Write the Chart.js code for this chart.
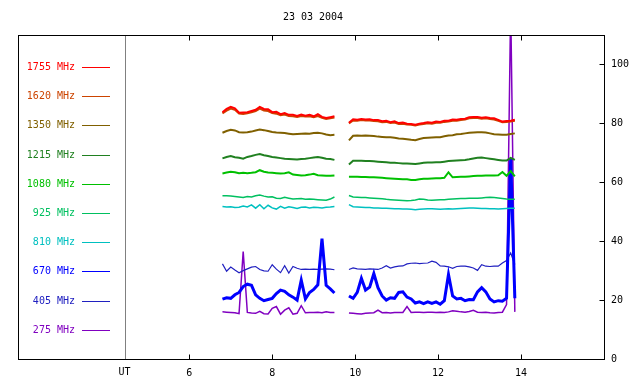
<!DOCTYPE html>
<html>
<head>
<meta charset="utf-8">
<script src="https://cdn.jsdelivr.net/npm/chart.js@4.4.1/dist/chart.umd.min.js"></script>
<style>
  html, body { margin: 0; padding: 0; background: #fff; }
  canvas { display: block; }
</style>
</head>
<body>
<canvas id="radio" width="640" height="384"></canvas>
<script>
'use strict';

// 관측 시각 (UT, 시간). 9.7 은 자료가 빠진 구간
const times = [6.8, 6.9, 7.0, 7.1, 7.2, 7.3, 7.4, 7.5, 7.6, 7.7, 7.8, 7.9, 8.0, 8.1, 8.2, 8.3, 8.4, 8.5, 8.6, 8.7,
    8.8, 8.9, 9.0, 9.1, 9.2, 9.3, 9.4, 9.5,
    9.7,
    9.85, 9.95, 10.05, 10.15, 10.25, 10.35, 10.45, 10.55, 10.65, 10.75, 10.85, 10.95, 11.05, 11.15, 11.25, 11.35,
    11.45, 11.55, 11.65, 11.75, 11.85, 11.95, 12.05, 12.15, 12.25, 12.35, 12.45, 12.55, 12.65, 12.75, 12.85, 12.95,
    13.05, 13.15, 13.25, 13.35, 13.45, 13.55, 13.65, 13.75, 13.85];

// 주파수별 값 (앞 28개, 빈칸 null, 뒤 41개)
const f1755 = [83.8, 84.9, 85.6, 85.1, 83.6, 83.7, 83.8, 84.2, 84.6, 85.6, 84.9, 84.8, 83.8, 83.9, 83.1, 83.5, 82.9, 82.9, 82.5, 83.0,
    82.6, 82.9, 82.4, 83.1, 82.2, 81.8, 82.1, 82.4,
    null,
    80.2, 81.4, 81.2, 81.5, 81.3, 81.4, 81.1, 81.1, 80.7, 80.9, 80.4, 80.7, 80.1, 80.3, 79.9, 79.8, 79.5, 79.9, 80.1, 80.4,
    80.2, 80.6, 80.5, 80.9, 80.9, 81.3, 81.2, 81.5, 81.6, 82.1, 82.2, 82.2, 81.9, 82.1, 81.8, 81.7, 81.2, 80.6, 80.8, 80.9, 81.2];
const f1620 = [83.4, 84.3, 85.0, 84.6, 83.3, 83.2, 83.4, 83.8, 84.2, 85.0, 84.4, 84.2, 83.5, 83.3, 82.8, 83.0, 82.5, 82.4, 82.2, 82.5,
    82.3, 82.4, 82.1, 82.5, 81.9, 81.5, 81.7, 82.0,
    null,
    80.0, 81.0, 80.9, 81.1, 81.0, 81.0, 80.8, 80.7, 80.4, 80.5, 80.1, 80.3, 79.8, 79.9, 79.6, 79.5, 79.3, 79.6, 79.8, 80.0,
    79.9, 80.2, 80.2, 80.5, 80.6, 80.9, 80.9, 81.1, 81.3, 81.7, 81.8, 81.8, 81.6, 81.7, 81.5, 81.3, 80.9, 80.4, 80.5, 80.6, 80.9];
const f1350 = [76.8, 77.4, 77.8, 77.6, 77.0, 76.9, 77.0, 77.2, 77.6, 77.9, 77.7, 77.4, 77.1, 76.9, 76.8, 76.7, 76.5, 76.3, 76.4, 76.5,
    76.6, 76.5, 76.7, 76.8, 76.6, 76.2, 76.0, 76.1,
    null,
    74.2, 75.8, 75.9, 75.8, 75.9, 75.8, 75.7, 75.5, 75.4, 75.3, 75.3, 75.1, 74.9, 74.8, 74.6, 74.4, 74.3, 74.7, 75.0, 75.1,
    75.2, 75.3, 75.3, 75.6, 75.9, 76.0, 76.3, 76.4, 76.6, 76.8, 76.9, 77.0, 77.0, 76.9, 76.6, 76.3, 76.2, 76.1, 76.1, 76.4, 76.6];
const f1215 = [68.1, 68.6, 68.9, 68.5, 68.3, 68.0, 68.6, 68.9, 69.3, 69.6, 69.2, 68.9, 68.6, 68.4, 68.2, 68.0, 67.9, 67.8, 67.7, 67.9,
    68.0, 68.2, 68.4, 68.6, 68.3, 68.0, 67.9, 67.6,
    null,
    66.0, 67.3, 67.3, 67.3, 67.2, 67.2, 67.1, 67.0, 66.9, 66.8, 66.6, 66.6, 66.5, 66.4, 66.4, 66.3, 66.2, 66.4, 66.6, 66.7,
    66.7, 66.8, 66.8, 67.0, 67.2, 67.3, 67.4, 67.5, 67.6, 67.8, 68.1, 68.3, 68.4, 68.2, 68.0, 67.8, 67.6, 67.4, 67.4, 68.3, 67.6];
const f1080 = [63.0, 63.3, 63.6, 63.4, 63.1, 63.2, 63.1, 63.2, 63.4, 64.1, 63.6, 63.3, 63.2, 63.1, 63.0, 63.1, 63.4, 62.6, 62.5, 62.3,
    62.4, 62.6, 62.9, 62.4, 62.3, 62.2, 62.2, 62.3,
    null,
    61.9, 61.9, 61.9, 61.8, 61.8, 61.7, 61.7, 61.6, 61.5, 61.4, 61.3, 61.2, 61.1, 61.0, 61.0, 60.8, 60.8, 61.0, 61.2, 61.2,
    61.3, 61.4, 61.4, 61.5, 63.4, 61.7, 61.8, 61.9, 61.9, 62.0, 62.1, 62.2, 62.2, 62.3, 62.3, 62.3, 62.4, 63.5, 62.2, 63.8, 62.0];
const f925 = [55.4, 55.4, 55.3, 55.2, 55.0, 54.8, 55.2, 55.0, 55.4, 55.7, 55.3, 55.0, 55.1, 54.6, 54.5, 54.9, 54.6, 54.3, 54.4, 54.5,
    54.2, 54.3, 54.2, 54.1, 54.0, 53.9, 54.3, 55.0,
    null,
    55.5, 55.0, 54.9, 54.8, 54.8, 54.7, 54.6, 54.5, 54.4, 54.2, 54.1, 54.0, 53.9, 53.8, 53.7, 53.8, 54.0, 54.3, 54.2, 54.0,
    53.9, 54.0, 54.1, 54.1, 54.2, 54.3, 54.4, 54.5, 54.5, 54.6, 54.6, 54.6, 54.7, 54.8, 54.9, 54.8, 54.7, 54.5, 54.3, 54.2, 54.2];
const f810 = [51.8, 51.6, 51.7, 51.4, 51.5, 51.9, 51.6, 52.3, 51.2, 52.4, 51.0, 52.2, 51.3, 50.9, 51.8, 51.2, 51.7, 51.4, 51.1, 51.5,
    51.6, 51.3, 51.5, 51.4, 51.3, 51.5, 51.6, 51.8,
    null,
    52.4, 51.7, 51.6, 51.5, 51.4, 51.4, 51.3, 51.3, 51.2, 51.2, 51.1, 51.0, 51.0, 50.9, 50.9, 50.8, 50.7, 50.8, 50.9, 51.0,
    51.0, 50.9, 50.8, 50.9, 51.0, 50.9, 51.0, 51.1, 51.2, 51.3, 51.3, 51.2, 51.1, 51.1, 51.0, 51.0, 50.9, 51.0, 51.1, 51.2, 51.2];
const f670 = [20.3, 20.8, 20.6, 21.8, 22.6, 24.6, 25.4, 25.0, 21.8, 20.6, 19.8, 20.2, 20.6, 22.2, 23.4, 23.0, 21.8, 21.0, 20.0, 26.8,
    20.4, 22.6, 23.6, 25.2, 40.9, 25.0, 23.8, 22.4,
    null,
    21.4, 20.6, 22.6, 27.4, 23.4, 24.4, 29.0, 24.2, 21.4, 20.0, 20.8, 20.6, 22.6, 22.8, 21.0, 20.4, 19.0, 19.4, 18.8, 19.4,
    18.9, 19.4, 18.6, 19.8, 28.7, 21.4, 20.4, 20.6, 19.8, 20.2, 20.1, 22.8, 24.2, 22.8, 20.4, 19.4, 19.8, 19.6, 20.6, 68.0, 20.6];
const f405 = [32.3, 29.8, 31.2, 30.2, 29.3, 30.0, 30.6, 31.2, 31.4, 30.4, 29.9, 29.8, 32.0, 30.5, 29.3, 31.7, 29.2, 31.4, 30.8, 30.4,
    30.5, 30.4, 30.5, 30.4, 30.5, 30.6, 30.5, 30.3,
    null,
    30.4, 30.9, 30.6, 30.5, 30.4, 30.6, 30.5, 30.4, 30.9, 31.7, 30.9, 31.3, 31.5, 31.6, 32.3, 32.5, 32.6, 32.4, 32.5, 32.6,
    33.2, 32.8, 31.6, 31.5, 31.3, 30.8, 31.4, 31.5, 31.5, 31.3, 30.9, 30.1, 32.0, 31.5, 31.4, 31.5, 31.5, 32.6, 33.4, 36.0, 32.1];
const f275 = [16.0, 15.9, 15.8, 15.7, 15.4, 36.5, 15.8, 15.6, 15.5, 16.2, 15.4, 15.3, 17.2, 17.8, 15.2, 16.6, 17.4, 15.2, 15.5, 18.1,
    15.7, 15.8, 15.8, 15.9, 15.7, 16.0, 15.8, 15.8,
    null,
    15.6, 15.5, 15.4, 15.3, 15.5, 15.6, 15.7, 16.6, 15.7, 15.8, 15.6, 15.8, 15.8, 15.8, 17.8, 15.8, 15.9, 15.9, 15.8, 15.9,
    15.9, 15.8, 15.9, 15.8, 16.0, 16.4, 16.2, 16.0, 15.9, 16.1, 16.5, 15.9, 15.8, 15.9, 15.7, 15.6, 15.8, 15.9, 18.5, 120, 16.0];

// 범례 글자, 눈금
const freqLabels = ['1755 MHz', '1620 MHz', '1350 MHz', '1215 MHz', '1080 MHz', '925 MHz', '810 MHz', '670 MHz', '405 MHz', '275 MHz'];
const xTicks = [6, 8, 10, 12, 14];
const yTicks = [0, 20, 40, 60, 80, 100];
const title = '23 03 2004';
const utMark = 4.45;   // UT 구분선 위치 (시간)

// 선 스타일
const series = [f1755, f1620, f1350, f1215, f1080, f925, f810, f670, f405, f275];
const colors = ['#ff0000', '#cc4400', '#806000', '#208020', '#00c000', '#00c060', '#00c0c0', '#0000ff', '#2020c0', '#8000c0'];
const widths = [2, 2, 2, 2, 2, 1.5, 1.5, 3, 1.2, 1.5];
const FONT = '10px "DejaVu Sans Mono", monospace';

// 테두리, 안쪽 눈금, 범례, 제목
const framePlugin = {
    id: 'frame',
    afterDraw(chart) {
        const ctx = chart.ctx;
        const a = chart.chartArea;
        const xs = chart.scales.x;
        const ys = chart.scales.y;
        const L = Math.round(a.left) + 0.5, R = Math.round(a.right) + 0.5;
        const T = Math.round(a.top) + 0.5, B = Math.round(a.bottom) + 0.5;
        ctx.save();

        // UT 구분선
        const ux = Math.round(xs.getPixelForValue(utMark)) + 0.5;
        ctx.strokeStyle = '#808080';
        ctx.lineWidth = 1;
        ctx.beginPath();
        ctx.moveTo(ux, T); ctx.lineTo(ux, B);
        ctx.stroke();

        // 테두리
        ctx.strokeStyle = '#000';
        ctx.strokeRect(L, T, R - L, B - T);

        // 눈금 (안쪽)
        ctx.beginPath();
        xTicks.forEach(v => {
            const px = Math.round(xs.getPixelForValue(v)) + 0.5;
            ctx.moveTo(px, B); ctx.lineTo(px, B - 5);
            ctx.moveTo(px, T); ctx.lineTo(px, T + 5);
        });
        yTicks.forEach(v => {
            const py = Math.round(ys.getPixelForValue(v)) + 0.5;
            ctx.moveTo(R, py); ctx.lineTo(R - 5, py);
        });
        ctx.stroke();

        ctx.font = FONT;
        ctx.fillStyle = '#000';
        ctx.textBaseline = 'middle';
        ctx.textAlign = 'center';
        ctx.fillText('UT', ux - 1, 372);
        ctx.fillText(title, 313, 17);

        // 범례
        freqLabels.forEach((lab, i) => {
            const y = Math.round(67 + i * 29.2) + 0.5;
            ctx.fillStyle = colors[i];
            ctx.textAlign = 'right';
            ctx.fillText(lab, 75, y);
            ctx.strokeStyle = colors[i];
            ctx.beginPath();
            ctx.moveTo(82, y); ctx.lineTo(110, y);
            ctx.stroke();
        });
        ctx.restore();
    }
};

function makeChart() {
    const datasets = series.map((vals, i) => ({
        label: freqLabels[i],
        data: times.map((t, k) => ({ x: t, y: vals[k] })),
        borderColor: colors[i],
        borderWidth: widths[i],
        pointRadius: 0,
        tension: 0,
        spanGaps: false,
        fill: false
    }));

    new Chart(document.getElementById('radio'), {
        type: 'line',
        data: { datasets },
        options: {
            responsive: false,
            animation: false,
            devicePixelRatio: 1,
            layout: { padding: { left: 18, top: 35, right: 0, bottom: 0 } },
            plugins: { legend: { display: false }, tooltip: { enabled: false } },
            scales: {
                x: {
                    type: 'linear',
                    min: 1.87,
                    max: 16,
                    grid: { display: false, drawTicks: false },
                    border: { display: false },
                    afterBuildTicks: s => { s.ticks = xTicks.map(v => ({ value: v })); },
                    afterFit: s => { s.height = 25; },
                    ticks: { font: { family: '"DejaVu Sans Mono", monospace', size: 10 }, color: '#000', padding: 8, maxRotation: 0 }
                },
                y: {
                    type: 'linear',
                    position: 'right',
                    min: 0,
                    max: 110,
                    grid: { display: false, drawTicks: false },
                    border: { display: false },
                    afterBuildTicks: s => { s.ticks = yTicks.map(v => ({ value: v })); },
                    afterFit: s => { s.width = 36; },
                    ticks: { font: { family: '"DejaVu Sans Mono", monospace', size: 10 }, color: '#000', padding: 7 }
                }
            }
        },
        plugins: [framePlugin]
    });
}

window.onload = makeChart;
</script>
</body>
</html>
